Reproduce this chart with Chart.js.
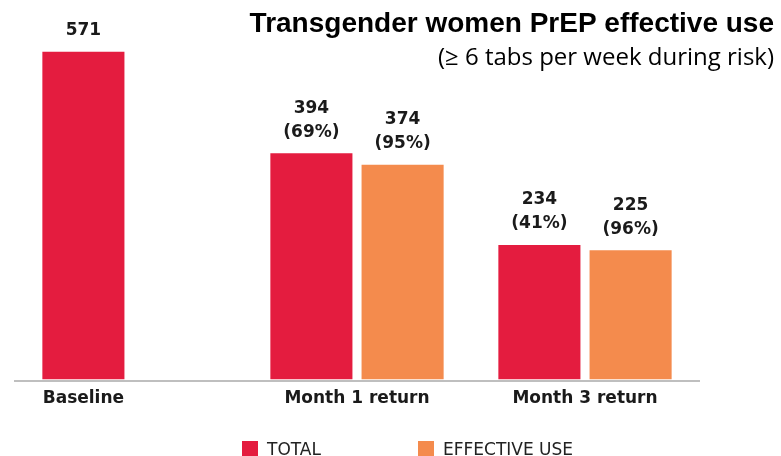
<!DOCTYPE html>
<html>
<head>
<meta charset="utf-8">
<script src="https://cdn.jsdelivr.net/npm/chart.js@4"></script>
<style>
  html, body { margin: 0; padding: 0; background: #fff; }
  canvas { display: block; }
</style>
</head>
<body>
<canvas id="chart" width="781" height="456"></canvas>
<script>
const categories = ['Baseline', 'Month 1 return', 'Month 3 return'];
const totalValues = [571, 394, 234];
const effectiveValues = [null, 374, 225];
const totalPct = [null, 69, 41];
const effectivePct = [null, 95, 96];
const seriesNames = ['TOTAL', 'EFFECTIVE USE'];
const titleText = 'Transgender women PrEP effective use';
const subtitleText = '(\u2265 6 tabs per week during risk)';

const RED = 'rgb(228, 28, 63)';
const ORANGE = 'rgb(244, 139, 77)';

// value labels, category names, legend and titles drawn on top of the bars
const annotations = {
  id: 'annotations',
  afterDatasetsDraw(chart) {
    const ctx = chart.ctx;
    const pcts = [totalPct, effectivePct];
    ctx.save();
    ctx.fillStyle = '#1a1a1a';
    ctx.textAlign = 'center';
    ctx.textBaseline = 'middle';
    ctx.font = 'bold 17px "DejaVu Sans"';

    chart.data.datasets.forEach((ds, i) => {
      chart.getDatasetMeta(i).data.forEach((bar, j) => {
        if (ds.data[j] == null) return;
        const lines = [String(ds.data[j])];
        if (pcts[i][j] != null) lines.push('(' + pcts[i][j] + '%)');
        lines.reverse().forEach((t, k) => ctx.fillText(t, bar.x, bar.y - 21 - k * 24));
      });
    });

    // category names sit under the bars that have data
    categories.forEach((c, j) => {
      const xs = [];
      chart.data.datasets.forEach((ds, i) => {
        if (ds.data[j] != null) xs.push(chart.getDatasetMeta(i).data[j].x);
      });
      const x = xs.reduce((a, b) => a + b, 0) / xs.length;
      ctx.fillText(c, x, chart.chartArea.bottom + 18);
    });

    // legend
    ctx.textAlign = 'left';
    ctx.textBaseline = 'alphabetic';
    ctx.font = '17px "DejaVu Sans"';
    chart.data.datasets.forEach((ds, i) => {
      const x = 242 + i * 176;
      ctx.fillStyle = ds.backgroundColor;
      ctx.fillRect(x, 441, 16, 16);
      ctx.fillStyle = '#222';
      ctx.fillText(ds.label, x + 25, 455);
    });

    // title
    ctx.textAlign = 'right';
    ctx.fillStyle = '#000';
    ctx.font = 'bold 28px "Liberation Sans"';
    ctx.fillText(titleText, 774, 32);
    ctx.font = '24px "Open Sans"';
    ctx.fillText(subtitleText, 774, 65);
    ctx.restore();
  }
};

new Chart(document.getElementById('chart').getContext('2d'), {
  type: 'bar',
  data: {
    labels: categories,
    datasets: [
      { label: seriesNames[0], data: totalValues, backgroundColor: RED },
      { label: seriesNames[1], data: effectiveValues, backgroundColor: ORANGE }
    ]
  },
  options: {
    responsive: false,
    animation: false,
    layout: { padding: { top: 35, bottom: 75, left: 15, right: 82 } },
    datasets: { bar: { categoryPercentage: 0.8, barPercentage: 0.9 } },
    scales: {
      x: {
        ticks: { display: false },
        grid: { display: false },
        border: { display: true, color: '#bfbfbf', width: 2 },
        afterFit: (scale) => { scale.height = 0; }
      },
      y: { display: false, min: -3, max: 600 }
    },
    plugins: {
      legend: { display: false },
      tooltip: { enabled: false }
    }
  },
  plugins: [annotations]
});
</script>
</body>
</html>
